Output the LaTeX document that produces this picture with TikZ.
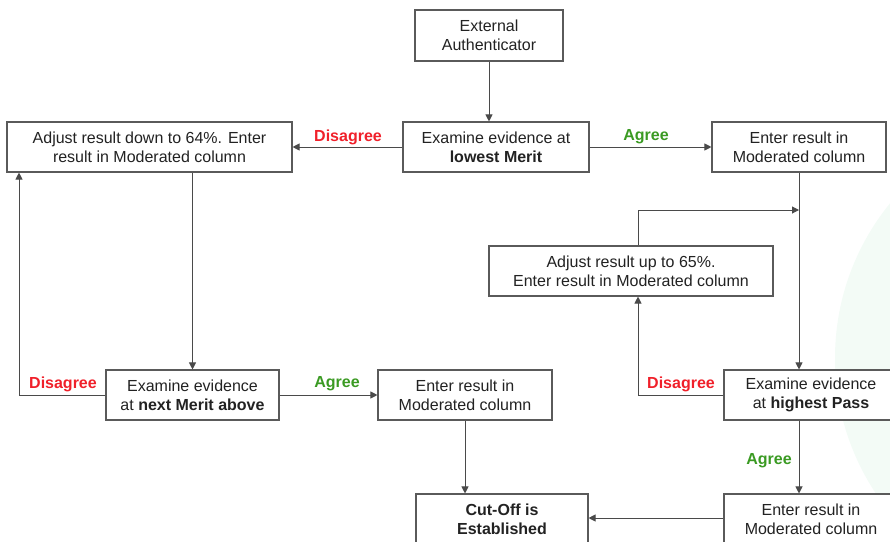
\documentclass[tikz,border=0pt]{standalone}
\usepackage{fontspec}
\setmainfont{Liberation Sans}
\usetikzlibrary{arrows.meta}
\definecolor{boxgray}{HTML}{5A5A5A}
\definecolor{linegray}{HTML}{4A4A4A}
\definecolor{txtgray}{HTML}{222222}
\definecolor{disred}{HTML}{F0202A}
\definecolor{agreen}{HTML}{3A9A22}
\definecolor{faintgreen}{HTML}{F3FBF6}
\begin{document}
\begin{tikzpicture}[x=1pt,y=-1pt,
  every node/.style={font=\fontsize{16}{19}\selectfont, text=txtgray},
  box/.style={draw=boxgray, line width=1.1pt, fill=white, align=center, inner sep=0pt, minimum height=50pt},
  conn/.style={draw=linegray, line width=1pt},
  arr/.style={conn, -{Triangle[length=7pt,width=7pt]}},
  dis/.style={text=disred, font=\fontsize{16}{19}\selectfont\bfseries},
  agr/.style={text=agreen, font=\fontsize{16}{19}\selectfont\bfseries}]
\useasboundingbox (0,0) rectangle (890,541);
\begin{scope}
\clip (0,0) rectangle (890,541);
\fill[faintgreen] (1080,358) circle (245);

\node[box, minimum width=148pt, minimum height=51pt] (ext) at (489,35.5) {External\\Authenticator};
\node[box, minimum width=186pt] (low) at (496,147) {Examine evidence at\\\textbf{lowest Merit}};
\node[box, minimum width=285pt] (down) at (149.5,147) {Adjust result down to 64\%. Enter\\result in Moderated column};
\node[box, minimum width=174pt] (entr) at (799,147) {Enter result in\\Moderated column};
\node[box, minimum width=284pt] (up) at (631,271) {Adjust result up to 65\%.\\Enter result in Moderated column};
\node[box, minimum width=173pt] (next) at (192.5,395) {Examine evidence\\at \textbf{next Merit above}};
\node[box, minimum width=174pt] (entm) at (465,395) {Enter result in\\Moderated column};
\node[box, minimum width=174pt] (high) at (811,395) {Examine evidence\\at \textbf{highest Pass}};
\node[box, minimum width=172pt] (cut) at (502,519) {\textbf{Cut-Off is}\\\textbf{Established}};
\node[box, minimum width=174pt] (entb) at (811,519) {Enter result in\\Moderated column};

\coordinate (lc) at (19,395);
\coordinate (rc) at (638,395);
\coordinate (m1) at (799,210);

\draw[arr] (ext.south) -- (ext.south |- low.north);
\draw[arr] (low.west) -- (down.east);
\draw[arr] (low.east) -- (entr.west);
\draw[arr] (next.north |- down.south) -- (next.north);
\draw[arr] (next.west) -- (lc) -- (lc |- down.south);
\draw[arr] (next.east) -- (entm.west);
\draw[arr] (entm.south) -- (entm.south |- cut.north);
\draw[arr] (entr.south) -- (entr.south |- high.north);
\draw[arr] (rc |- up.north) |- (m1);
\draw[arr] (high.west) -- (rc) -- (rc |- up.south);
\draw[arr] (entr.south |- high.south) -- (entr.south |- entb.north);
\draw[arr] (entb.west |- 0,518) -- (cut.east |- 0,518);

\node[dis] (l1) at (348,137) {Disagree};
\node[agr] (l2) at (646,137) {Agree};
\node[dis] (l3) at (63,384) {Disagree};
\node[agr] (l4) at (337,384) {Agree};
\node[dis] (l5) at (681,384) {Disagree};
\node[agr] (l6) at (769,461) {Agree};
\end{scope}
\end{tikzpicture}
\end{document}
